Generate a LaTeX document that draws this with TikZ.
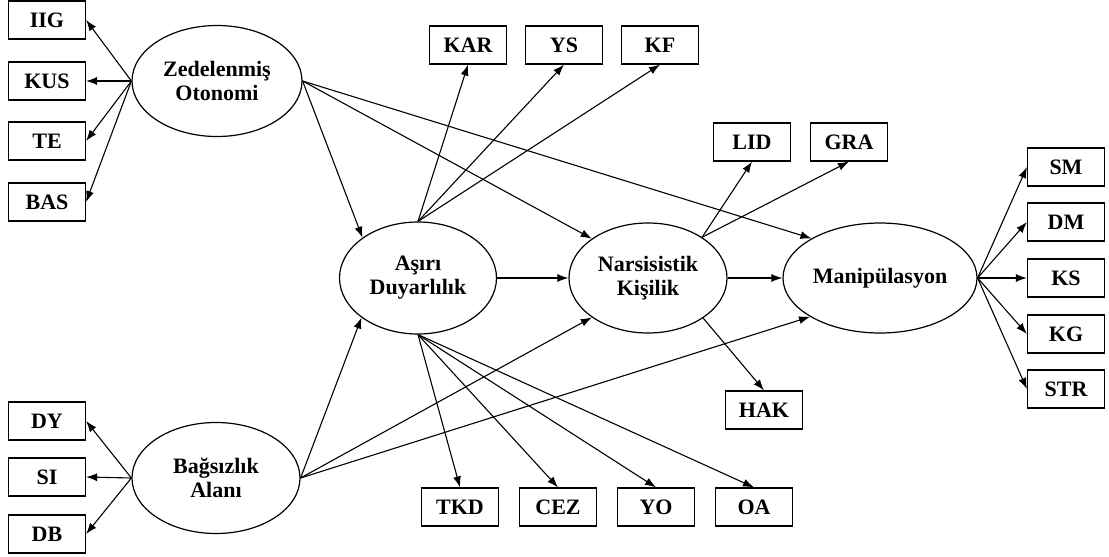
\documentclass[tikz,border=0pt]{standalone}
\usepackage{fontspec}
\setmainfont{Liberation Serif}
\usetikzlibrary{shapes.geometric,arrows.meta}

\begin{document}
\begin{tikzpicture}[x=1pt,y=-1pt,
    latentnode/.style={ellipse, draw, line width=1.2pt, inner sep=0pt, align=center, font=\fontsize{22}{24}\selectfont\bfseries},
    boxnode/.style={rectangle, draw, line width=1.2pt, minimum width=77pt, minimum height=38pt, inner sep=0pt, font=\fontsize{22}{24}\selectfont\bfseries},
    arr/.style={-{Latex[length=11pt,width=8pt]}, line width=1.1pt},]
    \useasboundingbox (0,0) rectangle (1109,557);
    % latent nodes
    \node[latentnode, minimum width=170pt, minimum height=111pt] (ZO)  at (217,81)  {Zedelenmiş\\Otonomi};
    \node[latentnode, minimum width=168pt, minimum height=111pt] (BA)  at (216,478) {Bağsızlık\\Alanı};
    \node[latentnode, minimum width=157pt, minimum height=112pt] (AD)  at (418,278) {Aşırı\\Duyarlılık};
    \node[latentnode, minimum width=158pt, minimum height=110pt] (NK)  at (648,278) {Narsisistik\\Kişilik};
    \node[latentnode, minimum width=194pt, minimum height=110pt] (MAN) at (880,278) {Manipülasyon};
    % observed nodes
    \node[boxnode] (IIG) at (47,20)   {IIG};
    \node[boxnode] (KUS) at (47,81)   {KUS};
    \node[boxnode] (TE)  at (47,141)  {TE};
    \node[boxnode] (BAS) at (47,202)  {BAS};
    \node[boxnode] (DY)  at (47,421)  {DY};
    \node[boxnode] (SI)  at (47,477)  {SI};
    \node[boxnode] (DB)  at (47,534)  {DB};
    \node[boxnode] (KAR) at (468,45)  {KAR};
    \node[boxnode] (YS)  at (564,45)  {YS};
    \node[boxnode] (KF)  at (660,45)  {KF};
    \node[boxnode] (LID) at (752,142) {LID};
    \node[boxnode] (GRA) at (849,142) {GRA};
    \node[boxnode] (HAK) at (764,410) {HAK};
    \node[boxnode] (TKD) at (460,507) {TKD};
    \node[boxnode] (CEZ) at (558,507) {CEZ};
    \node[boxnode] (YO)  at (656,507) {YO};
    \node[boxnode] (OA)  at (754,507) {OA};
    \node[boxnode] (SM)  at (1066,167) {SM};
    \node[boxnode] (DM)  at (1066,222) {DM};
    \node[boxnode] (KS)  at (1066,278) {KS};
    \node[boxnode] (KG)  at (1066,334) {KG};
    \node[boxnode] (STR) at (1066,389) {STR};
    % measurement lines
    \foreach \b in {IIG,KUS,TE,BAS} \draw[arr] (ZO.west) -- (\b.east);
    \foreach \b in {DY,SI,DB} \draw[arr] (BA.west) -- (\b.east);
    \foreach \b in {KAR,YS,KF} \draw[arr] (AD.north) -- (\b.south);
    \foreach \b in {TKD,CEZ,YO,OA} \draw[arr] (AD.south) -- (\b.north);
    \foreach \b in {LID,GRA} \draw[arr] (NK.37) -- (\b.south);
    \draw[arr] (NK.-36) -- (HAK.north);
    \foreach \b in {SM,DM,KS,KG,STR} \draw[arr] (MAN.east) -- (\b.west);
    % structural lines
    \draw[arr] (ZO.east) -- (AD.144);
    \draw[arr] (ZO.east) -- (NK.145);
    \draw[arr] (ZO.east) -- (MAN.150);
    \draw[arr] (BA.east) -- (AD.215);
    \draw[arr] (BA.east) -- (NK.215);
    \draw[arr] (BA.east) -- (MAN.209);
    \draw[arr] (AD.east) -- (NK.west);
    \draw[arr] (NK.east) -- (MAN.west);
\end{tikzpicture}
\end{document}
